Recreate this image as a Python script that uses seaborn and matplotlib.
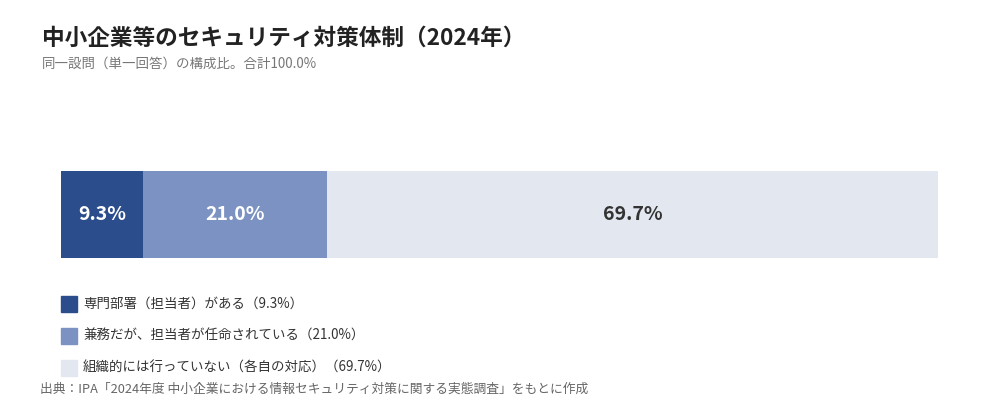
import matplotlib.pyplot as plt
import numpy as np
import pandas as pd
import seaborn as sns

# Data
labels = ['専門部署（担当者）がある', '兼務だが、担当者が任命されている', '組織的には行っていない（各自の対応）']
shares = [9.3, 21.0, 69.7]
colors = ['#2c4d8c', '#7b92c2', '#e3e7f0']
text_colors = ['white', 'white', '#333333']

sns.set_theme(style='white')
plt.rcParams['font.family'] = ['Noto Sans CJK JP', 'DejaVu Sans']

fig = plt.figure(figsize=(10, 4.2), dpi=100)
ax = fig.add_axes([0.061, 0.386, 0.877, 0.207])

# stacked bar: draw cumulative totals from largest to smallest
cum = np.cumsum(shares)
for i in range(len(shares) - 1, -1, -1):
    df = pd.DataFrame({'group': [''], 'value': [cum[i]]})
    sns.barplot(data=df, x='value', y='group', orient='h', color=colors[i],
                width=1, saturation=1, ax=ax, errorbar=None, linewidth=0)

starts = cum - np.array(shares)
for s, v, tc in zip(starts, shares, text_colors):
    ax.text(s + v / 2, 0, f'{v:.1f}%', ha='center', va='center',
            color=tc, fontsize=14, fontweight='bold')

ax.set_xlim(0, 100)
ax.set_ylim(0.5, -0.5)
ax.set_axis_off()

# titles
fig.text(0.042, 0.91, '中小企業等のセキュリティ対策体制（2024年）', fontsize=16.3,
         fontweight='bold', color='#222222', va='center')
fig.text(0.042, 0.848, '同一設問（単一回答）の構成比。合計100.0%', fontsize=9.7,
         color='#777777', va='center')

# legend
for k, (lab, v, c) in enumerate(zip(labels, shares, colors)):
    y = 0.276 - k * 0.076
    fig.patches.append(plt.Rectangle((0.061, y - 0.019), 0.016, 0.038,
                                     transform=fig.transFigure, color=c))
    fig.text(0.083, y, f'{lab}（{v:.1f}%）', fontsize=9.7, color='#333333', va='center')

fig.text(0.040, 0.074, '出典：IPA「2024年度 中小企業における情報セキュリティ対策に関する実態調査」をもとに作成',
         fontsize=9.2, color='#666666', va='center')

fig.savefig('out.png', dpi=100, facecolor='white')
